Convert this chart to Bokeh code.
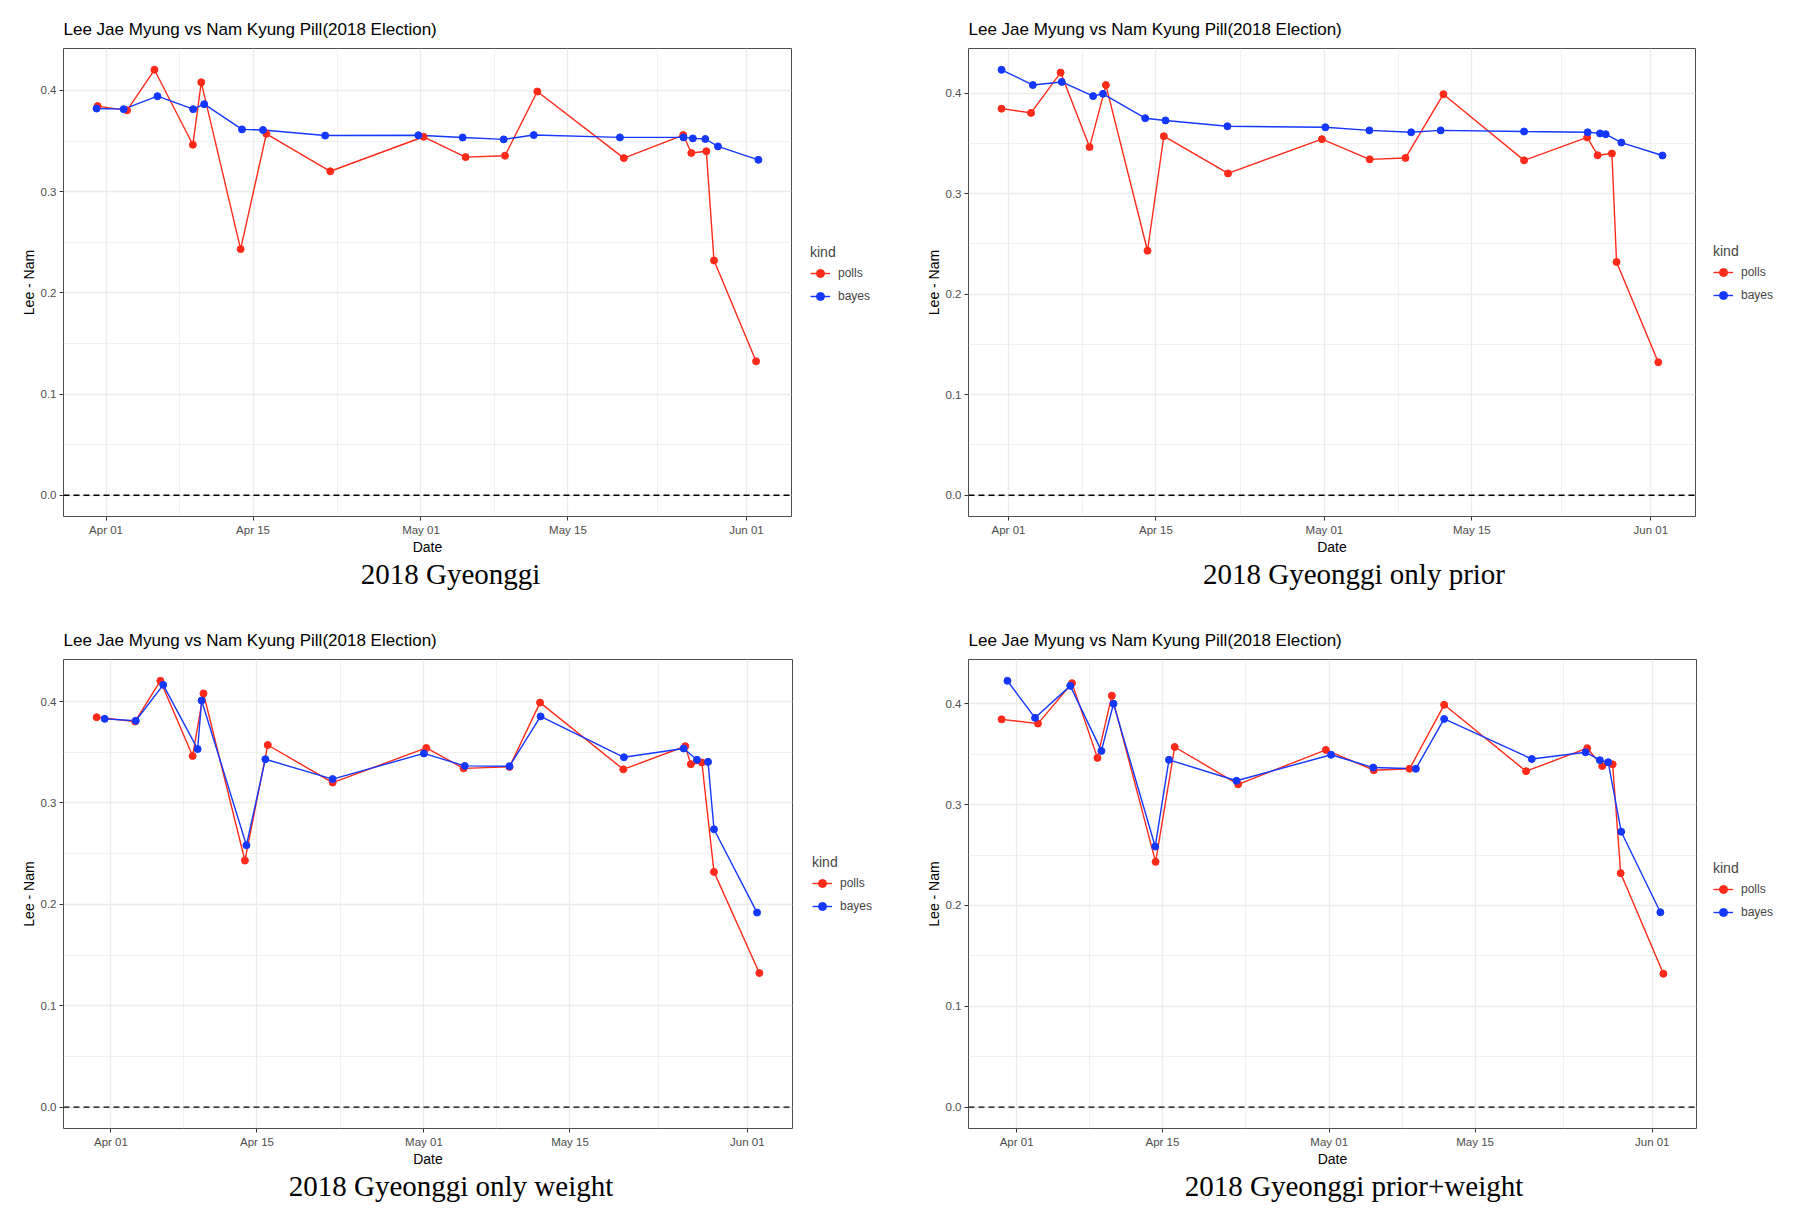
import pandas as pd
from bokeh.plotting import figure
from bokeh.layouts import column, row
from bokeh.models import (ColumnDataSource, FixedTicker, DatetimeTickFormatter,
                          Legend, LegendItem, Span, Range1d, Title)
from bokeh.embed import file_html
from bokeh.resources import INLINE

# ---- data -------------------------------------------------------------
# x positions are day offsets from 2018-04-01 (points are jittered horizontally)
base_date = "2018-04-01"

poll_values = [0.3845, 0.3803, 0.4204, 0.3463, 0.4080, 0.2432, 0.3571, 0.3201, 0.3542,
               0.3341, 0.3355, 0.3989, 0.3331, 0.3559, 0.3382, 0.3399, 0.2320, 0.1323]

poll_days_gyeonggi = [-0.80, 2.00, 4.61, 8.27, 9.07, 12.82, 15.27, 21.36, 30.25,
                      34.25, 38.00, 41.08, 49.32, 54.98, 55.75, 57.18, 57.91, 61.92]
bayes_days_gyeonggi = [-0.90, 1.68, 4.90, 8.30, 9.35, 12.95, 14.95, 20.87, 29.75,
                       33.97, 37.88, 40.74, 48.95, 55.01, 55.90, 57.08, 58.29, 62.14]
bayes_vals_gyeonggi = [0.3821, 0.3815, 0.3943, 0.3815, 0.3864, 0.3615, 0.3609, 0.3554, 0.3557,
                       0.3535, 0.3516, 0.3559, 0.3536, 0.3536, 0.3526, 0.3520, 0.3447, 0.3314]

poll_days_prior = [-0.66, 2.14, 4.95, 7.70, 9.25, 13.20, 14.75, 20.85, 29.76,
                   34.30, 37.70, 41.30, 48.96, 54.95, 55.95, 57.30, 57.74, 61.70]
bayes_days_prior = [-0.66, 2.31, 5.06, 8.04, 8.97, 12.98, 14.91, 20.79, 30.09,
                    34.27, 38.24, 41.04, 48.96, 55.00, 56.17, 56.71, 58.20, 62.10]
bayes_vals_prior = [0.4232, 0.4080, 0.4111, 0.3970, 0.3993, 0.3750, 0.3728, 0.3670, 0.3660,
                    0.3629, 0.3610, 0.3629, 0.3618, 0.3610, 0.3599, 0.3591, 0.3508, 0.3379]

poll_days_weight = [-1.37, 2.32, 4.74, 7.83, 8.87, 12.84, 15.03, 21.25, 30.23,
                    33.80, 38.20, 41.13, 49.11, 55.05, 55.58, 56.64, 57.80, 62.15]
bayes_days_weight = [-0.60, 2.38, 5.01, 8.31, 8.69, 12.99, 14.80, 21.25, 30.00,
                     33.91, 38.20, 41.18, 49.17, 54.89, 56.17, 57.23, 57.80, 61.93]
bayes_vals_weight = [0.3829, 0.3810, 0.4164, 0.3531, 0.4010, 0.2583, 0.3431, 0.3235, 0.3488,
                     0.3365, 0.3362, 0.3853, 0.3450, 0.3537, 0.3425, 0.3405, 0.2740, 0.1919]

poll_days_both = [-1.44, 2.05, 5.32, 7.76, 9.14, 13.34, 15.17, 21.26, 29.68,
                  34.27, 37.71, 41.03, 48.89, 54.76, 56.20, 57.20, 57.97, 62.07]
bayes_days_both = [-0.88, 1.77, 5.15, 8.14, 9.30, 13.30, 14.62, 21.10, 30.18,
                   34.22, 38.31, 41.03, 49.44, 54.60, 55.97, 56.77, 58.02, 61.78]
bayes_vals_both = [0.4227, 0.3860, 0.4177, 0.3532, 0.4000, 0.2584, 0.3444, 0.3236, 0.3494,
                   0.3367, 0.3355, 0.3849, 0.3452, 0.3519, 0.3440, 0.3420, 0.2731, 0.1932]

captions = ["2018 Gyeonggi", "2018 Gyeonggi only prior",
            "2018 Gyeonggi only weight", "2018 Gyeonggi prior+weight"]
plot_title = "Lee Jae Myung vs Nam Kyung Pill(2018 Election)"
series_names = ["polls", "bayes"]
legend_title = "kind"

x_tick_dates = ["2018-04-01", "2018-04-15", "2018-05-01", "2018-05-15", "2018-06-01"]
x_minor_dates = ["2018-04-08", "2018-04-23", "2018-05-08", "2018-05-23 12:00"]
y_ticks = [0.0, 0.1, 0.2, 0.3, 0.4]
y_minor_ticks = [0.05, 0.15, 0.25, 0.35]

# ---- styling ----------------------------------------------------------
RED = "#ff2a1a"
BLUE = "#1438ff"
GRID = "#ebebeb"
SANS = "Liberation Sans"
SERIF = "Liberation Serif"
CAPTION_PX = 29

# advance widths (per em) of the serif face, used to centre the captions
SERIF_ADV = {" ": 0.25, "+": 0.564, "G": 0.722, "e": 0.444, "g": 0.5, "h": 0.5,
             "i": 0.278, "l": 0.278, "n": 0.5, "o": 0.5, "p": 0.5, "r": 0.333,
             "t": 0.278, "w": 0.722, "y": 0.5}

EPOCH = pd.Timestamp("1970-01-01")


def to_ms(ts):
    return (pd.Timestamp(ts) - EPOCH) / pd.Timedelta(milliseconds=1)


def to_dates(days):
    return pd.Timestamp(base_date) + pd.to_timedelta(pd.Series(days), unit="D")


def serif_width(text, px):
    return sum(SERIF_ADV.get(ch, 0.5) for ch in text) * px


def make_chart(poll_days, bayes_days, bayes_vals, caption, caption_center,
               width, height, left, right, top, bottom):
    # ranges padded by 5% on each side, zero line included in y
    all_days = list(poll_days) + list(bayes_days)
    d0, d1 = min(all_days), max(all_days)
    dpad = (d1 - d0) * 0.05
    all_vals = list(poll_values) + list(bayes_vals) + [0.0]
    v0, v1 = min(all_vals), max(all_vals)
    vpad = (v1 - v0) * 0.05
    x_start = pd.Timestamp(base_date) + pd.Timedelta(days=d0 - dpad)
    x_end = pd.Timestamp(base_date) + pd.Timedelta(days=d1 + dpad)

    p = figure(width=width, height=height, output_backend="svg", toolbar_location=None,
               x_axis_type="datetime",
               x_range=Range1d(x_start, x_end), y_range=Range1d(v0 - vpad, v1 + vpad),
               min_border_left=left, min_border_right=width - right,
               min_border_top=top, min_border_bottom=height - bottom)
    p.background_fill_color = "white"
    p.border_fill_color = "white"
    p.outline_line_color = "#4d4d4d"
    p.outline_line_width = 1

    p.add_layout(Title(text=plot_title, align="left", text_font=SANS,
                       text_font_size="17px", text_font_style="normal",
                       text_color="black", standoff=20), "above")

    polls = ColumnDataSource(dict(x=to_dates(poll_days), y=poll_values))
    bayes = ColumnDataSource(dict(x=to_dates(bayes_days), y=bayes_vals))

    # grid
    p.xaxis.ticker = FixedTicker(ticks=[to_ms(d) for d in x_tick_dates],
                                 minor_ticks=[to_ms(d) for d in x_minor_dates])
    p.yaxis.ticker = FixedTicker(ticks=y_ticks, minor_ticks=y_minor_ticks)
    for g in (p.xgrid, p.ygrid):
        g.grid_line_color = GRID
        g.grid_line_width = 1.3
        g.minor_grid_line_color = GRID
        g.minor_grid_line_width = 0.7

    p.add_layout(Span(location=0, dimension="width", line_color="black",
                      line_dash="6 4", line_width=1.3))

    p.line("x", "y", source=polls, line_color=RED, line_width=1.4)
    p.line("x", "y", source=bayes, line_color=BLUE, line_width=1.4)
    p.scatter("x", "y", source=polls, size=7, fill_color=RED, line_color=RED)
    p.scatter("x", "y", source=bayes, size=7, fill_color=BLUE, line_color=BLUE)

    # axes
    fmt = "%b %d"
    p.xaxis.formatter = DatetimeTickFormatter(days=fmt, months=fmt, years=fmt,
                                              hours=fmt, hourmin=fmt)
    p.yaxis.major_label_overrides = {t: f"{t:.1f}" for t in y_ticks}
    for ax in (p.xaxis, p.yaxis):
        ax.axis_line_color = None
        ax.major_tick_line_color = "#333333"
        ax.major_tick_in = 0
        ax.major_tick_out = 4
        ax.minor_tick_line_color = None
        ax.major_label_text_font = SANS
        ax.major_label_text_font_size = "11.5px"
        ax.major_label_text_color = "#4d4d4d"
        ax.major_label_standoff = 3
        ax.axis_label_text_font = SANS
        ax.axis_label_text_font_size = "14px"
        ax.axis_label_text_font_style = "normal"
        ax.axis_label_text_color = "black"
    p.xaxis.axis_label = "Date"
    p.xaxis.axis_label_standoff = 0
    p.yaxis.axis_label = "Lee - Nam"
    p.yaxis.axis_label_standoff = 1

    # serif caption under the axis, centred on the whole panel
    offset = caption_center - left - serif_width(caption, CAPTION_PX) / 2
    p.add_layout(Title(text=caption, align="left", offset=offset, text_font=SERIF,
                       text_font_size=f"{CAPTION_PX}px", text_font_style="normal",
                       text_color="black", vertical_align="top", standoff=0), "below")
    return p


def make_legend(width, height, top, bottom, x_off, legend_top):
    # strip to the right of a chart holding its "kind" legend
    lg = figure(width=width, height=height, output_backend="svg", toolbar_location=None,
                x_range=Range1d(0, 1), y_range=Range1d(0, 1),
                x_axis_location=None, y_axis_location=None,
                min_border_left=0, min_border_right=0,
                min_border_top=top, min_border_bottom=height - bottom,
                outline_line_color=None)
    lg.grid.visible = False
    lg.background_fill_color = "white"
    lg.border_fill_color = "white"
    # key-only renderers: a single NaN point, so nothing lands on the strip itself
    nan = float("nan")
    kr_line = lg.line(x=[nan], y=[nan], line_color=RED, line_width=1.4)
    kr_dot = lg.scatter(x=[nan], y=[nan], size=7, fill_color=RED, line_color=RED)
    kb_line = lg.line(x=[nan], y=[nan], line_color=BLUE, line_width=1.4)
    kb_dot = lg.scatter(x=[nan], y=[nan], size=7, fill_color=BLUE, line_color=BLUE)

    legend_h = 62
    vy = (bottom - top) - (legend_top - top) - legend_h
    legend = Legend(items=[LegendItem(label=series_names[0], renderers=[kr_line, kr_dot]),
                           LegendItem(label=series_names[1], renderers=[kb_line, kb_dot])],
                    title=legend_title, location=(x_off, vy), orientation="vertical")
    legend.title_text_font = SANS
    legend.title_text_font_size = "14px"
    legend.title_text_font_style = "normal"
    legend.title_standoff = 3
    legend.label_text_font = SANS
    legend.label_text_font_size = "12px"
    legend.glyph_width = 20
    legend.glyph_height = 20
    legend.label_height = 20
    legend.label_standoff = 8
    legend.spacing = 3
    legend.padding = 0
    legend.margin = 0
    legend.border_line_color = None
    legend.background_fill_alpha = 0
    lg.add_layout(legend)
    return lg


p1 = make_chart(poll_days_gyeonggi, bayes_days_gyeonggi, bayes_vals_gyeonggi,
                captions[0], 450.0, 792, 610, 63, 791, 48, 516)
l1 = make_legend(110, 610, 48, 516, 18, 243.5)
p2 = make_chart(poll_days_prior, bayes_days_prior, bayes_vals_prior,
                captions[1], 451.5, 794, 610, 66, 793, 48, 517)
l2 = make_legend(109, 610, 48, 517, 17, 244)
p3 = make_chart(poll_days_weight, bayes_days_weight, bayes_vals_weight,
                captions[2], 450.5, 793, 611, 63, 792, 49, 518)
l3 = make_legend(109, 611, 49, 518, 19, 244)
p4 = make_chart(poll_days_both, bayes_days_both, bayes_vals_both,
                captions[3], 451.5, 795, 611, 66, 794, 49, 518)
l4 = make_legend(108, 611, 49, 518, 16, 250)

layout = column(row(p1, l1, p2, l2), row(p3, l3, p4, l4))
open("out.html", "w").write(file_html(layout, INLINE, title="Lee Jae Myung vs Nam Kyung Pill"))
